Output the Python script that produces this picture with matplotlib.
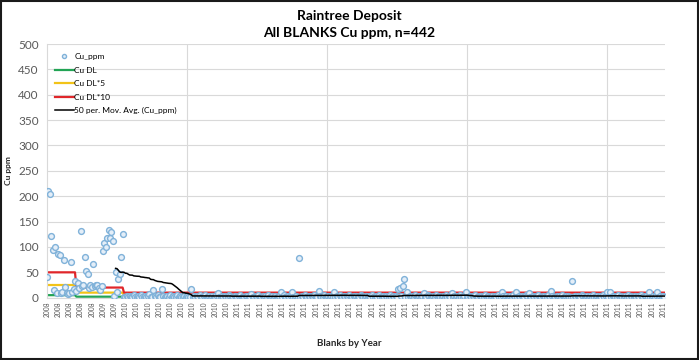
import numpy as np
import pandas as pd
import matplotlib
matplotlib.use('Agg')
import matplotlib.pyplot as plt
from matplotlib.ticker import MultipleLocator
from matplotlib.patches import Rectangle

plt.rcParams['font.family'] = ['Lato', 'DejaVu Sans']

# Cu_ppm der Blanks, 20 Werte pro Zeile
cu_ppm = [
    40, 211, 204, 122, 94, 15, 99, 10, 87, 84, 9, 12, 74, 22, 10, 8, 10, 70, 12, 18,
    32, 14, 28, 20, 131, 23, 25, 80, 53, 47, 20, 25, 22, 66, 23, 26, 25, 20, 15, 24,
    92, 107, 100, 117, 133, 117, 129, 112, 3, 50, 12, 37, 47, 80, 125, 2, 1, 3, 2, 4,
    1, 2, 5, 2, 1, 3, 2, 6, 2, 1, 4, 2, 3, 8, 2, 1, 15, 3, 2, 5,
    1, 2, 18, 3, 1, 2, 4, 2, 6, 1, 3, 2, 1, 5, 2, 3, 1, 2, 4, 2,
    3, 1, 2, 17, 2, 4, 1, 3, 2, 5, 1, 2, 3, 6, 2, 1, 4, 2, 3, 1,
    2, 5, 10, 2, 1, 3, 2, 4, 1, 2, 6, 3, 1, 2, 4, 2, 1, 3, 5, 2,
    1, 2, 4, 3, 1, 2, 7, 2, 1, 3, 2, 5, 1, 2, 3, 1, 4, 2, 6, 1,
    2, 3, 1, 4, 2, 1, 3, 11, 2, 5, 1, 2, 3, 1, 4, 11, 2, 1, 3, 2,
    79, 1, 3, 2, 5, 1, 2, 4, 1, 3, 2, 6, 1, 2, 14, 3, 1, 2, 5, 2,
    1, 3, 2, 4, 1, 12, 2, 3, 1, 5, 2, 1, 4, 2, 3, 1, 6, 2, 1, 3,
    2, 4, 1, 2, 5, 3, 1, 2, 4, 1, 3, 2, 6, 1, 2, 3, 1, 5, 2, 1,
    3, 2, 4, 1, 2, 5, 1, 3, 2, 4, 1, 18, 20, 3, 23, 37, 2, 12, 1, 4,
    2, 3, 1, 5, 2, 1, 4, 2, 3, 9, 1, 2, 5, 3, 1, 2, 4, 1, 6, 2,
    3, 1, 2, 4, 1, 5, 2, 3, 1, 10, 2, 4, 1, 3, 2, 6, 1, 2, 3, 11,
    2, 1, 4, 2, 3, 1, 5, 2, 1, 3, 4, 2, 1, 6, 2, 3, 1, 2, 4, 1,
    3, 2, 5, 1, 2, 11, 3, 1, 4, 2, 1, 3, 2, 5, 1, 11, 2, 4, 1, 3,
    2, 1, 5, 3, 9, 2, 1, 4, 2, 3, 1, 6, 2, 1, 3, 4, 2, 1, 5, 2,
    14, 3, 1, 2, 4, 1, 3, 2, 5, 1, 2, 4, 3, 1, 2, 32, 1, 3, 2, 4,
    1, 2, 5, 3, 1, 2, 4, 1, 3, 2, 6, 1, 2, 3, 1, 4, 2, 5, 1, 3,
    11, 2, 11, 1, 3, 4, 2, 1, 5, 2, 3, 1, 2, 4, 1, 6, 2, 3, 1, 2,
    4, 1, 3, 2, 5, 1, 2, 3, 4, 1, 11, 2, 1, 3, 2, 5, 11, 1, 4, 2,
    3, 1,
]

# Nachweisgrenzen (Abschnitte)
dl_len = [21, 34, 387]
cu_dl = [5, 2, 1]
cu_dl5 = [25, 10, 5]
cu_dl10 = [50, 20, 10]

# Jahre der Blanks
year_names = ['2008', '2009', '2010', '2011']
year_counts = [36, 19, 78, 309]

n = len(cu_ppm)
idx = np.arange(n)
years = np.repeat(year_names, year_counts)
mov_avg = pd.Series(cu_ppm).rolling(50).mean()

fig = plt.figure(figsize=(6.99, 3.6), dpi=100)
ax = fig.add_axes([47/699, 62.3/360, 618/699, 253.7/360])

ax.plot(idx, cu_ppm, linestyle='none', marker='o', markersize=4.2,
        markerfacecolor='#e4eef8', markeredgecolor='#80b2d9', markeredgewidth=1.0,
        label='Cu_ppm', zorder=3)
ax.plot(idx, np.repeat(cu_dl, dl_len), color='#22a455', lw=1.6, label='Cu DL', zorder=2)
ax.plot(idx, np.repeat(cu_dl5, dl_len), color='#f2c318', lw=1.6, label='Cu DL*5', zorder=2)
ax.plot(idx, np.repeat(cu_dl10, dl_len), color='#e0262a', lw=1.6, label='Cu DL*10', zorder=2)
ax.plot(idx, mov_avg, color='black', lw=1.1, label='50 per. Mov. Avg. (Cu_ppm)', zorder=4)

ax.set_ylim(0, 500)
ax.set_xlim(0, 441.4)
ax.yaxis.set_major_locator(MultipleLocator(50))
ax.grid(axis='y', color='#d9d9d9', lw=0.8)
# vertikale Gitterlinien alle 100 Blanks
for gx in range(100, n, 100):
    ax.axvline(gx, color='#d9d9d9', lw=0.8, zorder=0)
ax.set_axisbelow(True)

ax.set_xticks(idx[::8])
ax.set_xticklabels(years[::8], rotation=90, fontsize=4.8, color='#595959')
ax.tick_params(axis='x', which='both', length=0, pad=3)
ax.tick_params(axis='y', length=0, labelsize=8.5, labelcolor='#595959', pad=6)

for s in ['top', 'right']:
    ax.spines[s].set_visible(False)
ax.spines['left'].set_color('#d9d9d9')
ax.spines['bottom'].set_color('#d9d9d9')

ax.set_ylabel('Cu ppm', fontsize=6, fontweight='bold', color='#262626')
ax.yaxis.set_label_coords(-35/618, 0.5)
fig.text(0.5, 1 - 343/360, 'Blanks by Year', ha='center', va='center',
         fontsize=7, fontweight='bold', color='#262626')
fig.text(0.5, 1 - 16/360, 'Raintree Deposit', ha='center', va='center',
         fontsize=10, fontweight='bold', color='black')
fig.text(0.5, 1 - 33/360, 'All BLANKS Cu ppm, n=442', ha='center', va='center',
         fontsize=10, fontweight='bold', color='black')

ax.legend(loc='upper left', bbox_to_anchor=(0.008, 0.977), frameon=False, fontsize=6,
          handlelength=2.2, handletextpad=0.1, labelspacing=0.78, borderaxespad=0,
          markerscale=0.7)

fig.add_artist(Rectangle((0.002, 0.003), 0.996, 0.994, transform=fig.transFigure,
                         fill=False, edgecolor='#1a1a1a', lw=1.5))

fig.savefig('out.png', dpi=100)
